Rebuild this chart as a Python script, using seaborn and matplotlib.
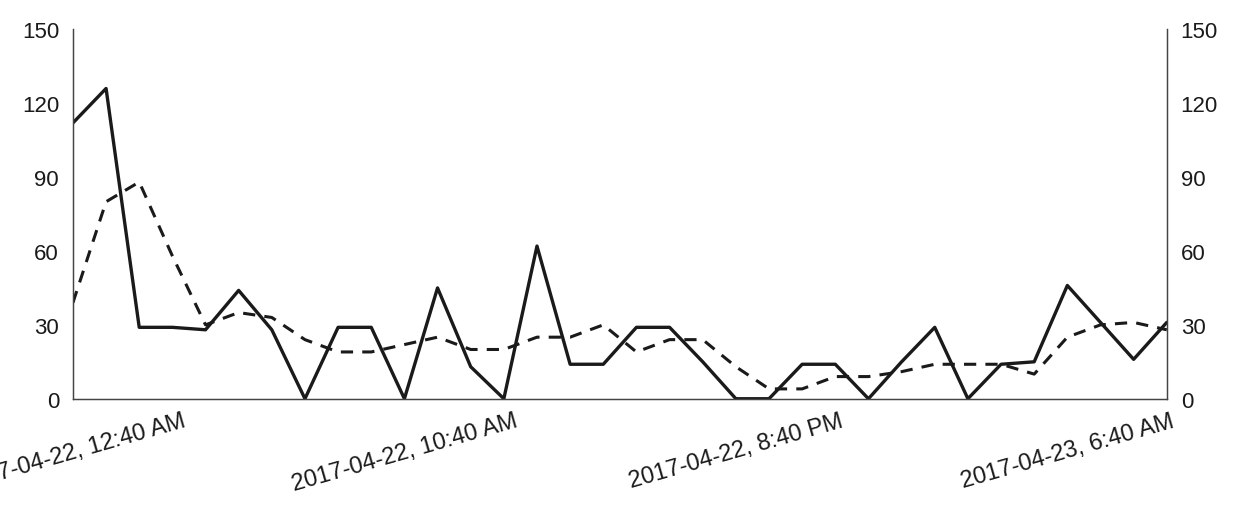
import pandas as pd
import matplotlib
matplotlib.use("Agg")
import matplotlib.pyplot as plt
import seaborn as sns

# hourly values (34 points, 00:40 on 04-22 to 09:40 on 04-23)
start_time = "2017-04-22 00:40"
n_points = 34
solid_values = [112, 126, 29, 29, 28, 44, 28, 0, 29, 29, 0, 45, 13, 0, 62, 14, 14,
                29, 29, 15, 0, 0, 14, 14, 0, 15, 29, 0, 14, 15, 46, 31, 16, 31]
dashed_values = [39, 80, 88, 58, 30, 35, 33, 24, 19, 19, 22, 25, 20, 20, 25, 25, 30,
                 19, 24, 24, 13, 4, 4, 9, 9, 11, 14, 14, 14, 10, 25, 30, 31, 28]
y_ticks = [0, 30, 60, 90, 120, 150]
x_tick_times = ["2017-04-22 00:40", "2017-04-22 10:40", "2017-04-22 20:40", "2017-04-23 06:40"]
x_tick_labels = ["2017-04-22, 12:40 AM", "2017-04-22, 10:40 AM",
                 "2017-04-22, 8:40 PM", "2017-04-23, 6:40 AM"]

df = pd.DataFrame({
    "time": pd.date_range(start_time, periods=n_points, freq="h"),
    "solid": solid_values,
    "dashed": dashed_values,
})

sns.set_style("white")
plt.rcParams["font.family"] = ["Liberation Sans", "DejaVu Sans"]
text_color = "#1a1a1a"

fig = plt.figure(figsize=(12.36, 5.06), dpi=100)
ax = fig.add_axes([0.059, 0.21, 0.885, 0.73])
ax2 = ax.twinx()

sns.lineplot(data=df, x="time", y="solid", ax=ax, color="#1a1a1a", linewidth=2.4)
sns.lineplot(data=df, x="time", y="dashed", ax=ax2, color="#1a1a1a", linewidth=2.2,
             linestyle=(0, (4, 3)))

for a in (ax, ax2):
    a.set_ylim(0, 150)
    a.set_yticks(y_ticks)
    a.set_xlim(df["time"].iloc[0], df["time"].iloc[-1])
    a.set_ylabel("")
    a.set_xlabel("")
    a.spines["top"].set_visible(False)
    for s in a.spines.values():
        s.set_color("#444444")
        s.set_linewidth(0.9)

ax.tick_params(axis="y", length=0, pad=10, labelsize=16, labelcolor=text_color)
ax2.tick_params(axis="y", length=0, pad=10, labelsize=16, labelcolor=text_color)

ax.set_xticks(pd.to_datetime(x_tick_times))
ax.set_xticklabels(x_tick_labels, rotation=16, ha="center")
ax.tick_params(axis="x", length=0, pad=8, labelsize=17, labelcolor=text_color)

fig.savefig("out.png", dpi=100)
